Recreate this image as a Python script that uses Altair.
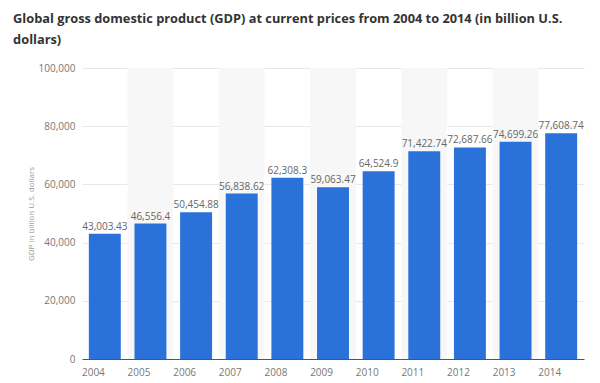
import altair as alt
import pandas as pd

years = ["2004", "2005", "2006", "2007", "2008", "2009", "2010", "2011", "2012", "2013", "2014"]
gdp = [43003.43, 46556.4, 50454.88, 56838.62, 62308.3, 59063.47, 64524.9, 71422.74, 72687.66, 74699.26, 77608.74]
labels = ["43,003.43", "46,556.4", "50,454.88", "56,838.62", "62,308.3", "59,063.47",
          "64,524.9", "71,422.74", "72,687.66", "74,699.26", "77,608.74"]
shaded_years = ["2005", "2007", "2009", "2011", "2013"]

df = pd.DataFrame({"year": years, "gdp": gdp, "label": labels})
shade = pd.DataFrame({"year": shaded_years})

W, H = 502, 291
font = "Open Sans"

xscale = alt.Scale(domain=years, paddingInner=0, paddingOuter=0)
yscale = alt.Scale(domain=[0, 100000])

bg = alt.Chart(shade).mark_rect(color="#f7f7f7").encode(
    x=alt.X("year:N", scale=xscale, sort=years)
)

bars = alt.Chart(df).mark_bar(color="#2a72d9", width=alt.RelativeBandSize(0.7)).encode(
    x=alt.X("year:N", scale=xscale, sort=years,
            axis=alt.Axis(title=None, labelAngle=0, ticks=False, domainColor="#555",
                          domainWidth=1, labelColor="#777", labelFontSize=10,
                          labelFont=font, labelPadding=13, grid=False)),
    y=alt.Y("gdp:Q", scale=yscale,
            axis=alt.Axis(title="GDP in billion U.S. dollars", values=[0, 20000, 40000, 60000, 80000, 100000],
                          format=",d", domain=False, ticks=False, gridColor="#e8e8e8",
                          labelColor="#777", labelFontSize=10, labelFont=font, labelPadding=7,
                          titleFont=font, titleFontSize=8, titleColor="#999", titleFontWeight="normal",
                          titlePadding=3)),
)

text = alt.Chart(df).mark_text(dy=-7, fontSize=10, font=font, color="#666").encode(
    x=alt.X("year:N", scale=xscale, sort=years),
    y=alt.Y("gdp:Q", scale=yscale),
    text="label:N",
)

chart = alt.layer(bg, bars, text).properties(
    width=W, height=H,
    autosize=alt.AutoSizeParams(type="none"),
    padding={"left": 74, "top": 60, "right": 4, "bottom": 18},
    title=alt.TitleParams(
        text=["Global gross domestic product (GDP) at current prices from 2004 to 2014 (in billion U.S.",
              "dollars)"],
        anchor="start", dx=-14, offset=16, fontSize=12.8, font=font, fontWeight="bold",
        color="#333", lineHeight=21,
    ),
).configure_view(stroke=None)

chart.save("out.html", embed_options={"renderer": "svg", "actions": False})
